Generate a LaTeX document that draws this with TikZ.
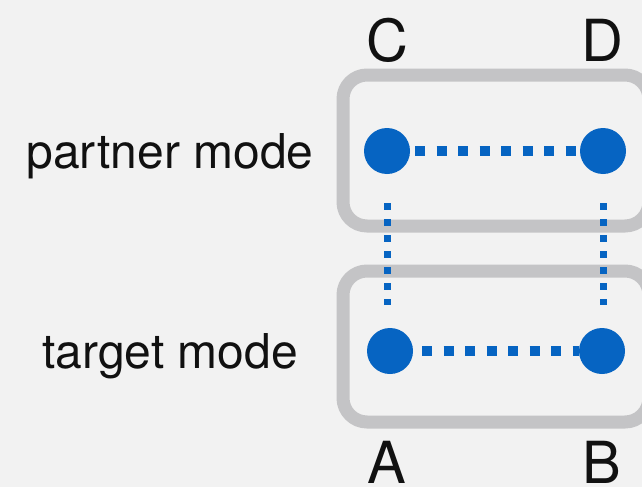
\documentclass[tikz,border=0pt]{standalone}
\usepackage{fontspec}
\setmainfont{TeX Gyre Heros}
\definecolor{bg}{RGB}{242,242,242}
\definecolor{frame}{RGB}{196,196,198}
\definecolor{dotblue}{RGB}{6,100,194}
\definecolor{ink}{RGB}{17,17,17}
\begin{document}
\begin{tikzpicture}[x=1pt,y=-1pt,
  modebox/.style={draw=frame,line width=13pt,rounded corners=24pt},
  vertex/.style={circle,fill=dotblue,minimum size=46pt,inner sep=0pt},
  hlink/.style={draw=dotblue,line width=10pt,dash pattern=on 10pt off 11.5pt},
  vlink/.style={draw=dotblue,line width=7pt,dash pattern=on 7pt off 9pt},
  modelabel/.style={anchor=base,text=ink,font=\fontsize{48pt}{50pt}\selectfont,inner sep=0pt},
  letter/.style={anchor=base,text=ink,font=\fontsize{58pt}{60pt}\selectfont,inner sep=0pt}]
\fill[bg] (0,0) rectangle (642,487);
\useasboundingbox (0,0) rectangle (642,487);
\begin{scope}
\clip (0,0) rectangle (642,487);
\draw[modebox] (343,75) rectangle (649,226);
\draw[modebox] (343,271) rectangle (649,422);
\end{scope}
\node[vertex] (C) at (387,151) {};
\node[vertex] (D) at (603,151) {};
\node[vertex] (A) at (390,351) {};
\node[vertex] (B) at (602,351) {};
\draw[hlink,shorten <=5pt] (C) -- (D);
\draw[hlink,shorten <=9pt] (A) -- (B);
\draw[vlink,shorten <=29pt,shorten >=23pt] (C.south) -- (C.south |- A.north);
\draw[vlink,shorten <=29pt,shorten >=23pt] (D.south) -- (D.south |- B.north);
\node[modelabel] (pm) at (170,168) {partner mode};
\node[modelabel] (tm) at (170,368) {target mode};
\node[letter] (lC) at (387,62) {C};
\node[letter] (lD) at (602,62) {D};
\node[letter] (lA) at (387,483) {A};
\node[letter] (lB) at (602,483) {B};
\end{tikzpicture}
\end{document}
